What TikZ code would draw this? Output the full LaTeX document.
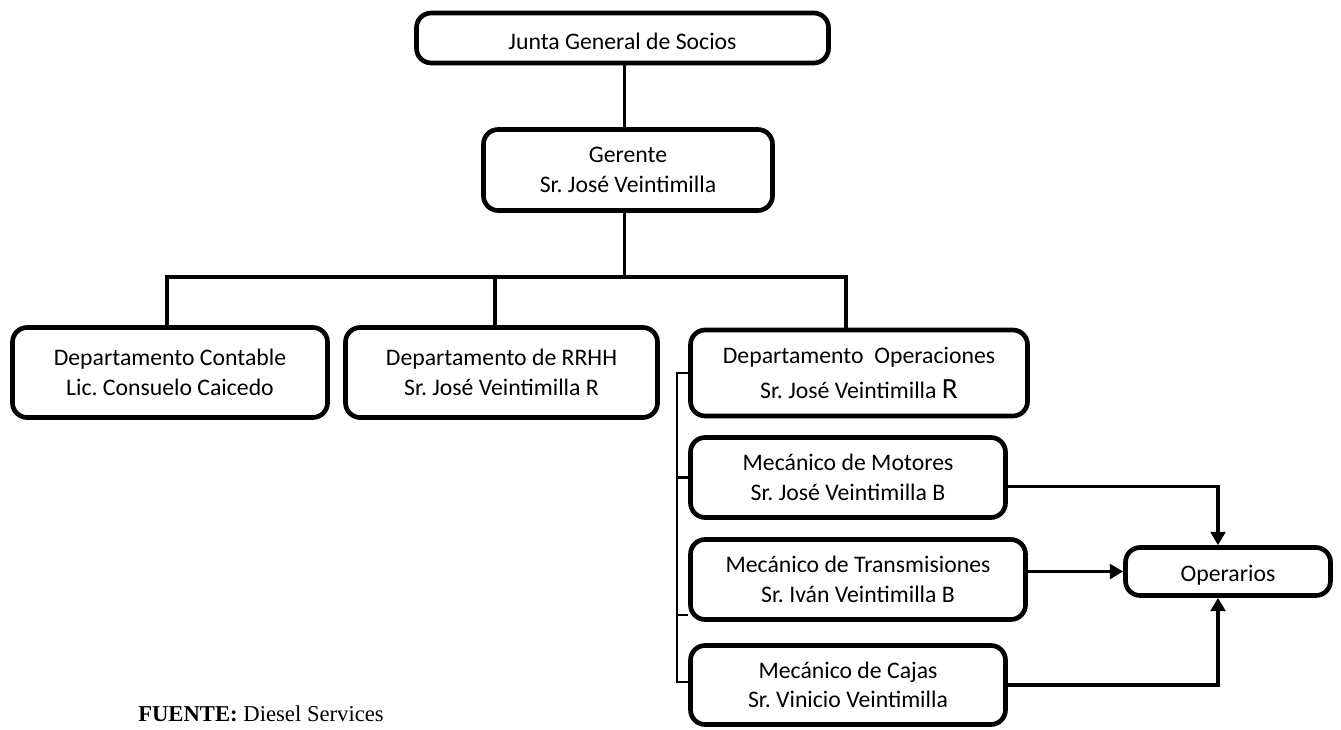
\documentclass[tikz,border=0pt]{standalone}
\usepackage{fontspec}
\setmainfont{Carlito}
\newfontfamily\timesf{Liberation Serif}
\usetikzlibrary{arrows.meta}
\begin{document}
\frenchspacing
\begin{tikzpicture}[x=0.75pt,y=-0.75pt,
  box/.style={draw, line width=3.5pt, rounded corners=11pt, align=center, inner sep=0pt, fill=white,
    font=\fontsize{17.8}{22}\selectfont\frenchspacing,
    execute at begin node={\rule{0pt}{18pt}}},
  conn/.style={line width=2.8pt},
  thinconn/.style={line width=2.2pt},
  arr/.style={line width=2.5pt, -{Triangle[width=11pt,length=10pt]}}]
\useasboundingbox (0,0) rectangle (1341,729);
% boxes
\node[box, minimum width=309pt, minimum height=37.5pt] (junta) at (622.5,38) {Junta General de Socios};
\node[box, minimum width=216.75pt, minimum height=60.75pt] (gerente) at (628,170) {Gerente\\Sr. José Veintimilla};
\node[box, minimum width=236.25pt, minimum height=67.5pt] (contable) at (170,372.5) {Departamento Contable\\Lic. Consuelo Caicedo};
\node[box, minimum width=234pt, minimum height=67.5pt] (rrhh) at (501.5,372.5) {Departamento de RRHH\\Sr. José Veintimilla R};
\node[box, minimum width=252.75pt, minimum height=64.5pt] (oper) at (859,373) {Departamento\ \ Operaciones\\[4pt]Sr. José Veintimilla {\fontsize{22}{22}\selectfont R}};
\node[box, minimum width=236.25pt, minimum height=60pt] (motores) at (848,477.5) {Mecánico de Motores\\Sr. José Veintimilla B};
\node[box, minimum width=251.25pt, minimum height=60pt] (trans) at (858,579.5) {Mecánico de Transmisiones\\Sr. Iván Veintimilla B};
\node[box, minimum width=236.25pt, minimum height=59.25pt] (cajas) at (848,685) {Mecánico de Cajas\\Sr. Vinicio Veintimilla};
\node[box, minimum width=153.75pt, minimum height=36pt] (operarios) at (1228,571.5) {Operarios};
\node[anchor=base west, inner sep=0pt, font=\timesf\fontsize{17}{20}\selectfont] (fuente) at (138,721) {\textbf{FUENTE:} Diesel Services};
% top connectors
\draw[conn] ([xshift=1.5pt]junta.south) -- ([xshift=1.5pt]junta.south |- gerente.north);
\coordinate (bar) at (624.5,277);
\coordinate (dA) at (167,277);
\coordinate (dB) at (495,277);
\coordinate (dC) at (846,277);
\draw[conn] (gerente.south -| bar) -- (bar);
\draw[conn, line cap=rect] (dA) -- (dC);
\draw[conn] (dA) -- (dA |- contable.north);
\draw[conn] (dB) -- (dB |- rrhh.north);
\draw[conn] (dC) -- (dC |- oper.north);
% bracket
\coordinate (brT) at (677,373);
\coordinate (brB) at (677,682);
\coordinate (brM) at (677,615);
\draw[thinconn] (oper.west |- brT) -- (brT) -- (brB) -- (brB -| cajas.west);
\draw[thinconn] (brT |- motores.west) -- (motores.west);
\draw[thinconn] (brM) -- (brM -| trans.west);
% arrows to operarios
\draw[arr] ([yshift=-6.75pt]motores.east) -| ([xshift=-7.5pt]operarios.north);
\draw[arr] (operarios.west -| trans.east) -- (operarios.west);
\draw[arr] (cajas.east) -| ([xshift=-7.5pt]operarios.south);
\end{tikzpicture}
\end{document}
